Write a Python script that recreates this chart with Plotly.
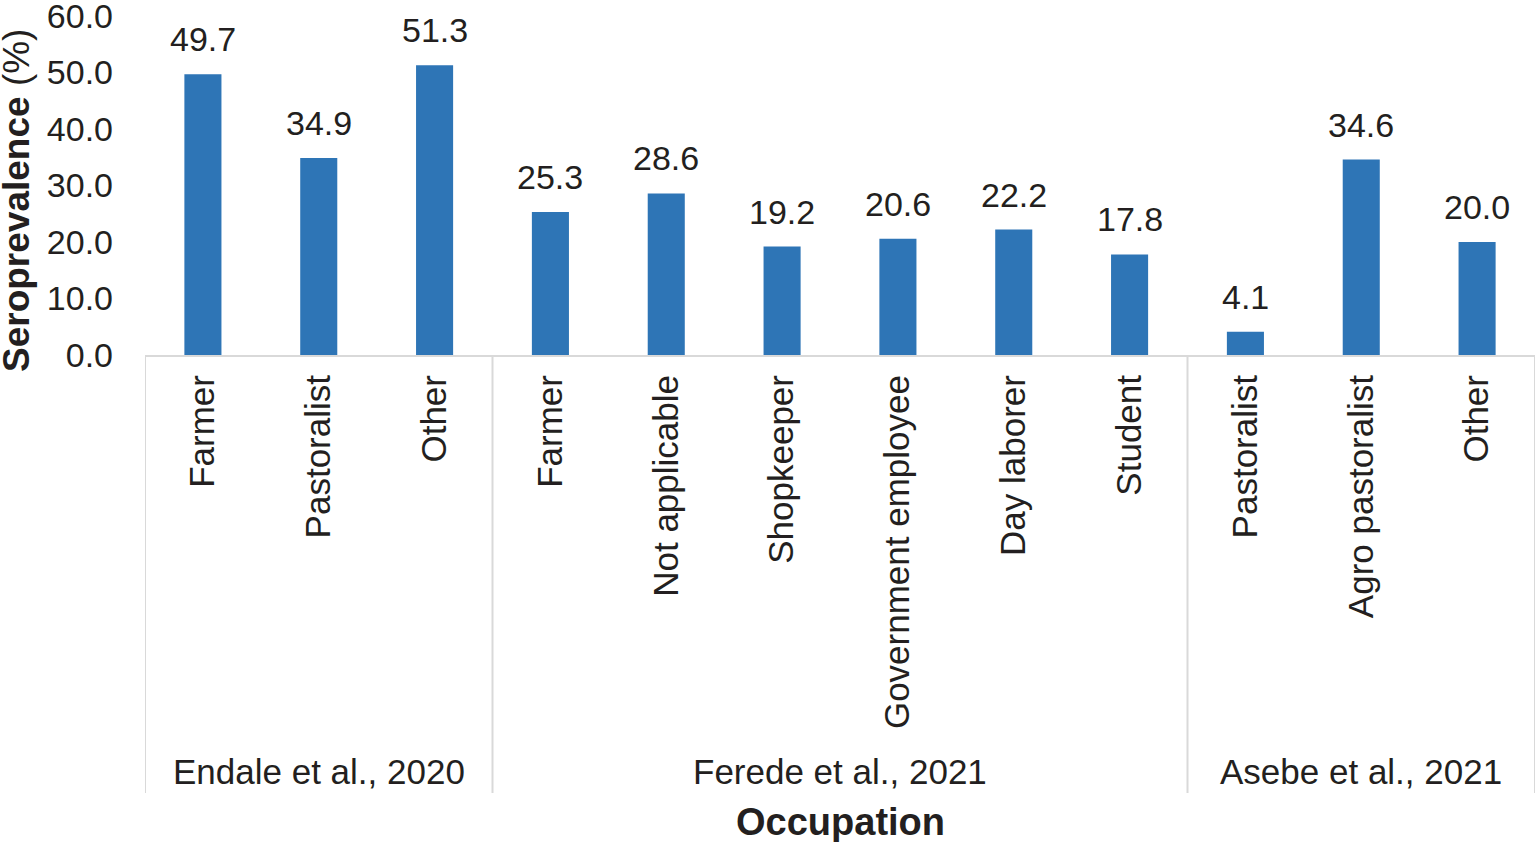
import plotly.graph_objects as go

studies = ["Endale et al., 2020", "Ferede et al., 2021", "Asebe et al., 2021"]
occupations = [
    ["Farmer", "Pastoralist", "Other"],
    ["Farmer", "Not applicable", "Shopkeeper", "Government employee", "Day laborer", "Student"],
    ["Pastoralist", "Agro pastoralist", "Other"],
]
values = [
    [49.7, 34.9, 51.3],
    [25.3, 28.6, 19.2, 20.6, 22.2, 17.8],
    [4.1, 34.6, 20.0],
]
y_ticks = [0, 10, 20, 30, 40, 50, 60]

FONT = "Liberation Sans, Arial, sans-serif"
TXT = "#231f20"
GRID = "#d9d9d9"

xs, labels, vals = [], [], []
bounds = [-0.5]
i = 0
for occ, v in zip(occupations, values):
    for o, val in zip(occ, v):
        xs.append(i)
        labels.append(o)
        vals.append(val)
        i += 1
    bounds.append(i - 0.5)

fig = go.Figure(go.Bar(
    x=xs, y=vals,
    marker=dict(color="#2e75b6", line=dict(width=0)),
    width=0.32,
))

# value labels
for xv, v in zip(xs, vals):
    fig.add_annotation(x=xv, y=v, xref="x", yref="y", text=f"{v:.1f}", showarrow=False,
                       yanchor="bottom", yshift=14,
                       font=dict(size=34, color=TXT, family=FONT))

W, H = 1537, 842
ml, mr, mt, mb = 145, 2, 16, 487
ph = H - mt - mb

def py(pix):
    return (H - mb - pix) / ph

# group dividers
for b in bounds:
    fig.add_shape(type="line", xref="x", yref="paper", x0=b, x1=b, y0=0, y1=py(793),
                  line=dict(color=GRID, width=2))

# group labels
start = 0
for s, occ in zip(studies, occupations):
    center = start + (len(occ) - 1) / 2
    fig.add_annotation(x=center, xref="x", y=py(771), yref="paper", text=s,
                       showarrow=False, font=dict(size=35, color=TXT, family=FONT),
                       yanchor="middle")
    start += len(occ)

fig.add_annotation(x=0.5, xref="paper", y=py(822), yref="paper", text="<b>Occupation</b>",
                   showarrow=False, font=dict(size=38, color=TXT, family=FONT), yanchor="middle")
fig.add_annotation(x=(16 - ml) / (W - ml - mr), xref="paper", y=py(201), yref="paper",
                   text="<b>Seroprevalence</b> (%)", textangle=-90, showarrow=False,
                   font=dict(size=37, color=TXT, family=FONT), xanchor="center", yanchor="middle")

fig.update_layout(
    width=W, height=H,
    margin=dict(l=ml, r=mr, t=mt, b=mb, autoexpand=False),
    plot_bgcolor="white", paper_bgcolor="white",
    showlegend=False,
    font=dict(family=FONT, color=TXT, size=34),
    xaxis=dict(
        range=[-0.5, len(xs) - 0.5],
        tickvals=xs, ticktext=labels, tickangle=-90,
        tickfont=dict(size=35, color=TXT, family=FONT),
        showline=True, linecolor=GRID, linewidth=2,
        showgrid=False, zeroline=False, ticks="", ticklabelstandoff=4,
    ),
    yaxis=dict(
        range=[0, 60.02], tickvals=y_ticks, tickformat=".1f",
        tickfont=dict(size=34, color=TXT, family=FONT),
        showline=False, showgrid=False, zeroline=False, ticks="",
        ticklabelstandoff=31, ticklabeloverflow="allow",
    ),
)

fig.write_html("out.html", config={"displayModeBar": False},
               post_script="document.body.style.margin='0';document.body.style.overflow='hidden';")
